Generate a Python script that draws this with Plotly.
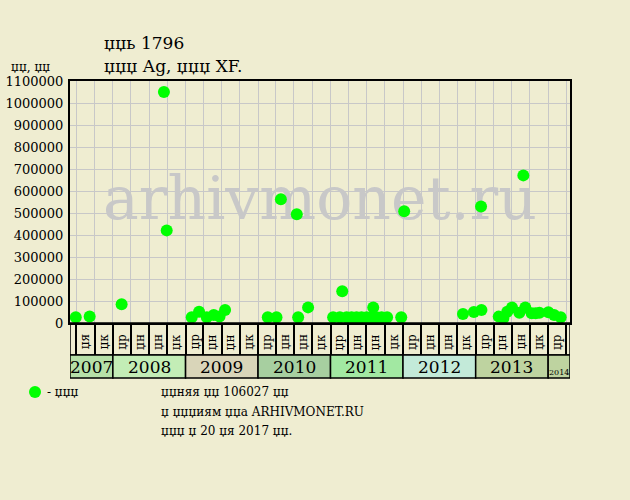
import plotly.graph_objects as go
import pandas as pd

# ---- data ----
dates = ["2007-06-28", "2007-09-06", "2008-02-14", "2008-09-14", "2008-09-28",
         "2009-02-01", "2009-03-10", "2009-04-18", "2009-05-23", "2009-06-21", "2009-07-19",
         "2010-02-19", "2010-04-04", "2010-04-26", "2010-07-15", "2010-07-22", "2010-09-10",
         "2011-01-14", "2011-02-17", "2011-03-01", "2011-03-23", "2011-04-17", "2011-05-12",
         "2011-06-06", "2011-07-02", "2011-07-27", "2011-08-04", "2011-08-21", "2011-09-15",
         "2011-10-13", "2011-12-23", "2012-01-07", "2012-10-29", "2012-12-23",
         "2013-01-28", "2013-01-30", "2013-04-27", "2013-05-20", "2013-06-09", "2013-07-03",
         "2013-08-09", "2013-08-29", "2013-09-08", "2013-10-10", "2013-10-30", "2013-11-18",
         "2014-01-02", "2014-01-31", "2014-03-05"]
prices = [26000, 30000, 85000, 1050000, 421000,
          26000, 51000, 26000, 36000, 29000, 59000,
          26000, 26000, 562000, 494000, 26000, 71000,
          26000, 26000, 144000, 26000, 26000, 26000,
          26000, 26000, 26000, 71000, 26000, 26000,
          26000, 26000, 508000, 41000, 50000,
          530000, 59000, 29000, 21000, 51000, 70000,
          47000, 671000, 70000, 44000, 44000, 47000,
          49000, 36000, 26000]

quarter_starts = pd.date_range("2007-07-01", "2014-04-01", freq="QS")
quarter_labels = (["џя", "џк"] + ["џр", "џн", "џн", "џк"] * 6 + ["џр"])
years = ["2007", "2008", "2009", "2010", "2011", "2012", "2013", "2014"]
year_colors = ["#b6e0a8", "#c3edb6", "#d9d5b9", "#a7cfa0", "#a2e8a2", "#c3ead9", "#bed3a0", "#bed3a0"]

x_start, x_end = "2007-05-30", "2014-04-21"

title_lines = ["џџь 1796", "џџџ Ag, џџџ XF."]
y_label = "џџ, џџ"
legend_label = "- џџџ"
info_lines = ["џџняя џџ 106027 џџ", "џ џџџиям џџа ARHIVMONET.RU", "џџџ џ 20 џя 2017 џџ."]
watermark = "arhivmonet.ru"

# ---- layout helpers ----
L, R, T, B = 70, 60, 81, 177
W, H = 630, 500
PW, PH = W - L - R, H - T - B
def px(x):
    return (x - L) / PW
def py(y):
    return (H - B - y) / PH

FONT = "DejaVu Serif"
BG = "#efedd1"

fig = go.Figure()
fig.add_trace(go.Scatter(x=dates, y=prices, mode="markers",
                         marker=dict(color="#00ff00", size=12, line=dict(width=0)),
                         showlegend=False, hoverinfo="x+y"))

shapes = []
annotations = []

# watermark between grid and traces
shapes.append(dict(type="rect", xref="paper", yref="paper", x0=0, x1=1, y0=py(244), y1=py(144),
                   line=dict(width=0), fillcolor="rgba(0,0,0,0)", layer="between",
                   label=dict(text=watermark, font=dict(family=FONT, size=60, color="#c8c8c8"),
                              textposition="middle center")))

# category band border
shapes.append(dict(type="rect", xref="x", yref="paper", x0=x_start, x1=x_end, y0=py(355), y1=0,
                   line=dict(color="black", width=1.5), layer="above"))

# quarter labels
for qs, lab in zip(quarter_starts, quarter_labels):
    mid = qs + pd.Timedelta(days=45)
    annotations.append(dict(x=mid, y=py(342), xref="x", yref="paper", text=lab, showarrow=False,
                            textangle=-90, font=dict(family=FONT, size=12, color="black"),
                            xanchor="center", yanchor="middle"))

# year boxes
bounds = [x_start] + [f"{y}-01-01" for y in range(2008, 2015)] + [x_end]
for i, (yr, col) in enumerate(zip(years, year_colors)):
    x0, x1 = bounds[i], bounds[i + 1]
    shapes.append(dict(type="rect", xref="x", yref="paper", x0=x0, x1=x1, y0=py(378), y1=py(355),
                       fillcolor=col, line=dict(color="black", width=1.5), layer="above"))
    mid = pd.Timestamp(x0) + (pd.Timestamp(x1) - pd.Timestamp(x0)) / 2
    if yr == "2014":
        annotations.append(dict(x=mid, y=py(372), xref="x", yref="paper", text=yr, showarrow=False,
                                font=dict(family=FONT, size=8, color="black"),
                                xanchor="center", yanchor="middle"))
    else:
        annotations.append(dict(x=mid, y=py(367), xref="x", yref="paper", text=yr, showarrow=False,
                                font=dict(family=FONT, size=17, color="black"),
                                xanchor="center", yanchor="middle"))

def left_text(x, y, text, size):
    return dict(x=px(x), y=py(y), xref="paper", yref="paper", text=text, showarrow=False,
                xanchor="left", yanchor="middle", align="left",
                font=dict(family=FONT, size=size, color="black"))

# titles
annotations.append(left_text(102, 43, title_lines[0], 17))
annotations.append(left_text(102, 66, title_lines[1], 17))
annotations.append(left_text(9, 67, y_label, 12))

# legend
shapes.append(dict(type="circle", xref="paper", yref="paper", x0=px(29), x1=px(41),
                   y0=py(398), y1=py(386), fillcolor="#00ff00", line=dict(width=0)))
annotations.append(left_text(45, 392, legend_label, 12))

# info
for i, t in enumerate(info_lines):
    annotations.append(left_text(159, 392 + 19.5 * i, t, 12))

fig.update_layout(
    width=W, height=H,
    margin=dict(l=L, r=R, t=T, b=B, autoexpand=False),
    paper_bgcolor=BG, plot_bgcolor=BG,
    shapes=shapes, annotations=annotations,
    showlegend=False,
    xaxis=dict(type="date", range=[x_start, x_end], tickvals=list(quarter_starts),
               showticklabels=False, ticks="outside", ticklen=32, tickwidth=1.5, tickcolor="black",
               showgrid=True, gridcolor="#c8c8c8", gridwidth=1, automargin=False,
               showline=True, linecolor="black", linewidth=2, mirror=True, zeroline=False),
    yaxis=dict(range=[0, 1100000], dtick=100000, tick0=0, tickformat="d", automargin=False,
               ticks="", showgrid=True, gridcolor="#c8c8c8", gridwidth=1, ticklabelstandoff=2,
               showline=True, linecolor="black", linewidth=2, mirror=True, zeroline=False,
               tickfont=dict(family=FONT, size=13, color="black")),
)

fig.write_html("out.html", config={"displayModeBar": False},
               post_script="document.body.style.margin='0';document.body.style.background='#efedd1';")
